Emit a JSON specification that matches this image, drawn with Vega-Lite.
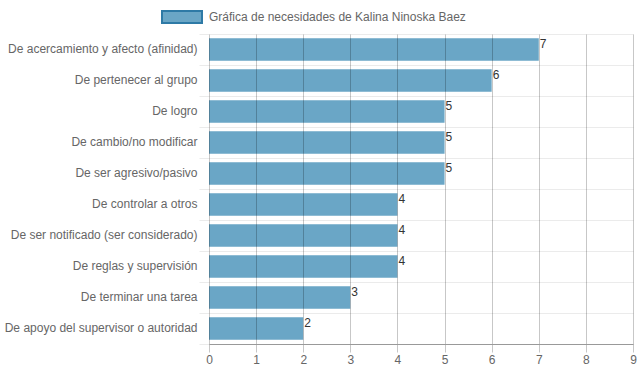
{
  "$schema": "https://vega.github.io/schema/vega-lite/v6.json",
  "autosize": {"type": "none"},
  "width": 424,
  "height": 310,
  "padding": {"left": 209, "top": 34, "right": 6, "bottom": 28},
  "config": {"view": {"stroke": null}, "font": "Liberation Sans"},
  "data": {
    "values": [
      {"necesidad": "De acercamiento y afecto (afinidad)", "valor": 7, "serie": "Gráfica de necesidades de Kalina Ninoska Baez"},
      {"necesidad": "De pertenecer al grupo", "valor": 6, "serie": "Gráfica de necesidades de Kalina Ninoska Baez"},
      {"necesidad": "De logro", "valor": 5, "serie": "Gráfica de necesidades de Kalina Ninoska Baez"},
      {"necesidad": "De cambio/no modificar", "valor": 5, "serie": "Gráfica de necesidades de Kalina Ninoska Baez"},
      {"necesidad": "De ser agresivo/pasivo", "valor": 5, "serie": "Gráfica de necesidades de Kalina Ninoska Baez"},
      {"necesidad": "De controlar a otros", "valor": 4, "serie": "Gráfica de necesidades de Kalina Ninoska Baez"},
      {"necesidad": "De ser notificado (ser considerado)", "valor": 4, "serie": "Gráfica de necesidades de Kalina Ninoska Baez"},
      {"necesidad": "De reglas y supervisión", "valor": 4, "serie": "Gráfica de necesidades de Kalina Ninoska Baez"},
      {"necesidad": "De terminar una tarea", "valor": 3, "serie": "Gráfica de necesidades de Kalina Ninoska Baez"},
      {"necesidad": "De apoyo del supervisor o autoridad", "valor": 2, "serie": "Gráfica de necesidades de Kalina Ninoska Baez"}
    ]
  },
  "encoding": {
    "y": {
      "field": "necesidad",
      "type": "nominal",
      "sort": null,
      "scale": {"paddingInner": 0, "paddingOuter": 0},
      "axis": {
        "title": null,
        "domain": false,
        "grid": true,
        "gridColor": "#ebebeb",
        "tickBand": "extent",
        "ticks": true,
        "tickColor": "#ebebeb",
        "tickSize": 10,
        "labelPadding": 2,
        "labelOffset": -1,
        "labelColor": "#666666",
        "labelFontSize": 12,
        "labelFont": "Liberation Sans",
        "labelLimit": 300
      }
    },
    "x": {
      "field": "valor",
      "type": "quantitative",
      "scale": {"domain": [0, 9], "nice": false},
      "axis": {
        "title": null,
        "values": [0, 1, 2, 3, 4, 5, 6, 7, 8, 9],
        "grid": true,
        "gridColor": "#000000",
        "gridOpacity": 0.22,
        "tickColor": "#000000",
        "tickOpacity": 0.22,
        "tickSize": 8,
        "domainColor": "#999999",
        "labelColor": "#666666",
        "labelFontSize": 12,
        "labelFont": "Liberation Sans",
        "labelPadding": 2,
        "labelFlush": false,
        "zindex": 1
      }
    }
  },
  "layer": [
    {
      "mark": {"type": "bar", "height": {"band": 0.72}},
      "encoding": {
        "color": {
          "field": "serie",
          "type": "nominal",
          "scale": {"range": ["#6aa6c6"]},
          "legend": {
            "title": null,
            "orient": "none",
            "legendX": -48,
            "legendY": -38,
            "symbolType": "M-1,-0.3H1V0.3H-1Z",
            "symbolSize": 1600,
            "symbolStrokeColor": "#2e7aa6",
            "symbolStrokeWidth": 2,
            "symbolOpacity": 1,
            "labelFontSize": 12,
            "labelColor": "#666666",
            "labelFont": "Liberation Sans",
            "labelOffset": 6,
            "labelLimit": 500,
            "encode": {"symbols": {"update": {"stroke": {"value": "#2e7aa6"}, "strokeWidth": {"value": 2}, "fill": {"value": "#6aa6c6"}}}}
          }
        }
      }
    },
    {
      "mark": {"type": "text", "align": "left", "baseline": "top", "dx": 1, "dy": -11, "fontSize": 12, "color": "#333333", "font": "Liberation Sans"},
      "encoding": {"text": {"field": "valor", "type": "quantitative"}}
    }
  ]
}
